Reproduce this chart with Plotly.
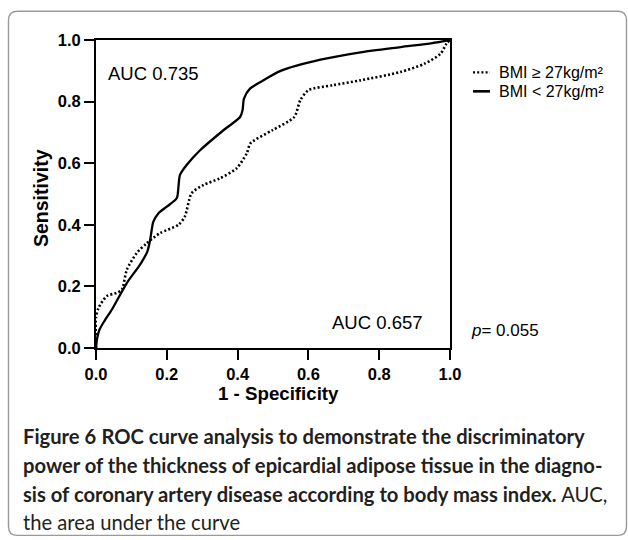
import plotly.graph_objects as go

# ---- data ----
fpr_low_bmi = [0, 0.003, 0.01, 0.025, 0.045, 0.087, 0.124, 0.145, 0.153, 0.162, 0.176, 0.200,
               0.228, 0.233, 0.237, 0.256, 0.294, 0.360, 0.407, 0.414, 0.418, 0.435, 0.473,
               0.520, 0.634, 0.747, 0.860, 0.950, 1.0]
tpr_low_bmi = [0, 0.030, 0.060, 0.090, 0.125, 0.211, 0.270, 0.313, 0.351, 0.410, 0.437, 0.459,
               0.486, 0.524, 0.561, 0.594, 0.642, 0.707, 0.750, 0.772, 0.810, 0.842, 0.869,
               0.899, 0.936, 0.960, 0.977, 0.990, 1.0]

fpr_high_bmi = [0, 0, 0.007, 0.030, 0.058, 0.073, 0.087, 0.115, 0.143, 0.181, 0.233, 0.251,
                0.270, 0.303, 0.350, 0.397, 0.426, 0.436, 0.498, 0.560, 0.577, 0.600, 0.668,
                0.747, 0.860, 0.928, 0.973, 0.990, 1.0]
tpr_high_bmi = [0, 0.100, 0.130, 0.168, 0.179, 0.189, 0.254, 0.308, 0.340, 0.373, 0.400, 0.427,
                0.502, 0.529, 0.551, 0.583, 0.632, 0.664, 0.707, 0.750, 0.804, 0.837, 0.853,
                0.869, 0.896, 0.923, 0.955, 0.988, 1.0]

series_names = ["BMI \u2265 27kg/m\u00b2", "BMI < 27kg/m\u00b2"]
tick_vals = [0.0, 0.2, 0.4, 0.6, 0.8, 1.0]
tick_text = ["0.0", "0.2", "0.4", "0.6", "0.8", "1.0"]
auc_labels = ["AUC 0.735", "AUC 0.657"]
p_label = "<i>p</i>= 0.055"
x_title = "1 - Specificity"
y_title = "Sensitivity"
caption_lines = [
    "<b>Figure 6</b> <b>ROC curve analysis to demonstrate the discriminatory</b>",
    "<b>power of the thickness of epicardial adipose tissue in the diagno-</b>",
    "<b>sis of coronary artery disease according to body mass index.</b> AUC,",
    "the area under the curve",
]

# ---- layout geometry (pixels) ----
W, H = 628, 540
L, R = 96, 450          # plot area left/right
T, B = 39.5, 348.5      # plot area top/bottom
PW, PH = R - L, B - T


def px(x):
    return (x - L) / PW


def py(y):
    return (B - y) / PH


fig = go.Figure()
fig.add_trace(go.Scatter(x=fpr_high_bmi, y=tpr_high_bmi, mode="lines", name=series_names[0],
                         line=dict(color="black", width=2.6, dash="2px,2.2px", shape="spline", smoothing=0.7),
                         showlegend=False))
fig.add_trace(go.Scatter(x=fpr_low_bmi, y=tpr_low_bmi, mode="lines", name=series_names[1],
                         line=dict(color="black", width=2.3, shape="spline", smoothing=0.7),
                         showlegend=False))

axis_common = dict(range=[0, 1], showgrid=False, zeroline=False, showline=True, mirror=True,
                   linecolor="black", linewidth=2, ticks="outside", ticklen=10, tickwidth=1.6,
                   tickcolor="black", tickvals=tick_vals, ticktext=tick_text,
                   tickfont=dict(family="Liberation Sans", size=16.5, color="black", weight="bold"))

fig.update_xaxes(**axis_common)
fig.update_yaxes(**axis_common)

ann = []
txt_font = dict(family="Liberation Sans", color="black")
ann.append(dict(x=px(106), y=py(73), xref="paper", yref="paper", text=auc_labels[0], showarrow=False,
                xanchor="left", yanchor="middle", font=dict(size=18.5, **txt_font)))
ann.append(dict(x=px(330), y=py(323), xref="paper", yref="paper", text=auc_labels[1], showarrow=False,
                xanchor="left", yanchor="middle", font=dict(size=18.5, **txt_font)))
ann.append(dict(x=px(469), y=py(331), xref="paper", yref="paper", text=p_label, showarrow=False,
                xanchor="left", yanchor="middle", font=dict(size=17, **txt_font)))
ann.append(dict(x=px(278), y=py(394), xref="paper", yref="paper", text=x_title, showarrow=False,
                xanchor="center", yanchor="middle", font=dict(size=18.7, weight="bold", **txt_font)))
ann.append(dict(x=px(41), y=py(198), xref="paper", yref="paper", text=y_title, showarrow=False,
                textangle=-90, xanchor="center", yanchor="middle", font=dict(size=19.5, weight="bold", **txt_font)))
# legend labels
ann.append(dict(x=px(497), y=py(72), xref="paper", yref="paper", text=series_names[0], showarrow=False,
                xanchor="left", yanchor="middle", font=dict(size=16, **txt_font)))
ann.append(dict(x=px(497), y=py(91), xref="paper", yref="paper", text=series_names[1], showarrow=False,
                xanchor="left", yanchor="middle", font=dict(size=16, **txt_font)))
# caption
cap_y = [437, 466, 494.5, 523]
for line, yy in zip(caption_lines, cap_y):
    ann.append(dict(x=px(21), y=py(yy), xref="paper", yref="paper", text=line, showarrow=False,
                    xanchor="left", yanchor="middle",
                    font=dict(family="Lato", size=20.2, color="#231f20")))

shapes = []
# legend samples
shapes.append(dict(type="line", xref="paper", yref="paper", x0=px(473), x1=px(490), y0=py(72), y1=py(72),
                   line=dict(color="black", width=2.4, dash="2px,2.2px")))
shapes.append(dict(type="line", xref="paper", yref="paper", x0=px(473), x1=px(490), y0=py(91), y1=py(91),
                   line=dict(color="black", width=2.6)))
# rounded outer frame
bx0, bx1, by0, by1, r = 8.5, 626.5, 10.7, 536.5, 9
path = (f"M {px(bx0)},{py(by0 + r)} "
        f"Q {px(bx0)},{py(by0)} {px(bx0 + r)},{py(by0)} "
        f"L {px(bx1 - r)},{py(by0)} "
        f"Q {px(bx1)},{py(by0)} {px(bx1)},{py(by0 + r)} "
        f"L {px(bx1)},{py(by1 - r)} "
        f"Q {px(bx1)},{py(by1)} {px(bx1 - r)},{py(by1)} "
        f"L {px(bx0 + r)},{py(by1)} "
        f"Q {px(bx0)},{py(by1)} {px(bx0)},{py(by1 - r)} Z")
shapes.append(dict(type="path", xref="paper", yref="paper", path=path,
                   line=dict(color="#9a9a9a", width=1.4)))

fig.update_layout(width=W, height=H, margin=dict(l=L, r=W - R, t=T, b=H - B, pad=0),
                  paper_bgcolor="white", plot_bgcolor="white", annotations=ann, shapes=shapes,
                  showlegend=False)

fig.write_html("out.html")
